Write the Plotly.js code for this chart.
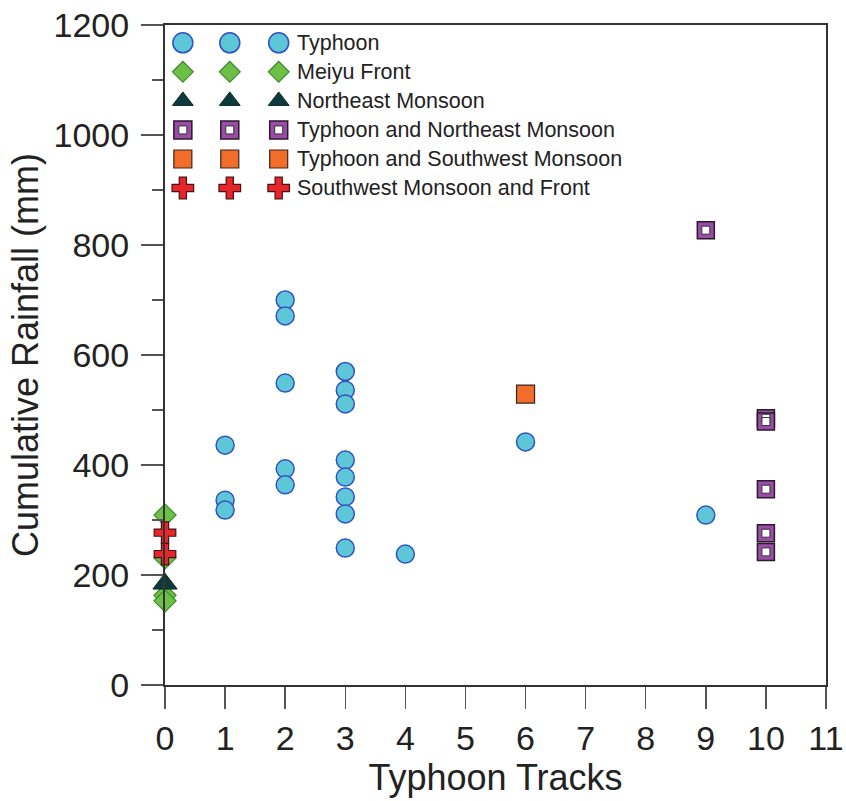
<!DOCTYPE html>
<html>
<head>
<meta charset="utf-8">
<script src="https://cdn.plot.ly/plotly-3.0.1.min.js"></script>
<style>html,body{margin:0;padding:0;background:#fff;}#chart{width:846px;height:801px;}</style>
</head>
<body>
<div id="chart"></div>
<script>
// ---- data ----
var typhoonX = [1, 1, 1, 2, 2, 2, 2, 2, 3, 3, 3, 3, 3, 3, 3, 3, 4, 6, 9];
var typhoonY = [436, 336, 318, 700, 671, 549, 393, 364, 570, 536, 511, 409, 378, 342, 311, 249, 238, 442, 309];
var meiyuX = [0, 0, 0, 0];
var meiyuY = [309, 231, 163, 153];
var neMonsoonX = [0];
var neMonsoonY = [184];
var tyNeX = [9, 10, 10, 10, 10, 10];
var tyNeY = [827, 485, 479, 356, 276, 242];
var tySwX = [6];
var tySwY = [529];
var swFrontX = [0, 0];
var swFrontY = [277, 238];

var seriesNames = ["Typhoon", "Meiyu Front", "Northeast Monsoon",
  "Typhoon and Northeast Monsoon", "Typhoon and Southwest Monsoon", "Southwest Monsoon and Front"];
var xTicks = [0, 1, 2, 3, 4, 5, 6, 7, 8, 9, 10, 11];
var yTicks = [0, 200, 400, 600, 800, 1000, 1200];

// legend layout (fractions of plot area)
var legendCols = [0.027, 0.098, 0.172];
var legendRows = [0.973, 0.929, 0.885, 0.841, 0.797, 0.753];

var FONT = "Liberation Sans, Arial, sans-serif";

var styles = [
  {symbol: "circle", size: 18, color: "#5ec7d7", line: {color: "#2f52c4", width: 1.5}},
  {symbol: "diamond", size: 17, color: "#6cc046", line: {color: "#3d8a28", width: 1.2}},
  {symbol: "triangle-up", size: 21, color: "#0e3b3a", line: {color: "#0a2625", width: 1}},
  {symbol: "square", size: 17, color: "#9a4ca8", line: {color: "#2b1a2b", width: 1.5}},
  {symbol: "square", size: 18, color: "#f26c2a", line: {color: "#3a2520", width: 1.2}},
  {symbol: "cross", size: 18, color: "#e7252a", line: {color: "#4a1010", width: 1.2}}
];
var legendSizes = [20, 16, 18, 18, 18, 18];
var innerStyle = {symbol: "square", size: 8, color: "#ffffff", line: {color: "#333333", width: 1}};

var dataSets = [
  [typhoonX, typhoonY], [meiyuX, meiyuY], [neMonsoonX, neMonsoonY],
  [tyNeX, tyNeY], [tySwX, tySwY], [swFrontX, swFrontY]
];

var traces = [];
dataSets.forEach(function (d, i) {
  traces.push({
    type: "scatter", mode: "markers", x: d[0], y: d[1], name: seriesNames[i],
    showlegend: false, cliponaxis: false, hoverinfo: "x+y+name",
    marker: {symbol: styles[i].symbol, size: styles[i].size, color: styles[i].color, line: styles[i].line}
  });
  if (i === 3) {
    traces.push({
      type: "scatter", mode: "markers", x: d[0], y: d[1], showlegend: false, cliponaxis: false,
      hoverinfo: "skip", marker: innerStyle
    });
  }
});

// custom three-marker legend drawn on a secondary axis pair
var annotations = [];
seriesNames.forEach(function (name, i) {
  var lx = legendCols.slice();
  var ly = legendCols.map(function () { return legendRows[i]; });
  traces.push({
    type: "scatter", mode: "markers", x: lx, y: ly, xaxis: "x2", yaxis: "y2",
    showlegend: false, cliponaxis: false, hoverinfo: "skip",
    marker: {symbol: styles[i].symbol, size: legendSizes[i], color: styles[i].color, line: styles[i].line}
  });
  if (i === 3) {
    traces.push({
      type: "scatter", mode: "markers", x: lx, y: ly, xaxis: "x2", yaxis: "y2",
      showlegend: false, cliponaxis: false, hoverinfo: "skip", marker: innerStyle
    });
  }
  annotations.push({
    xref: "x2", yref: "y2", x: 0.197, y: legendRows[i], xanchor: "left", yanchor: "middle",
    text: name, showarrow: false, font: {family: FONT, size: 21.5, color: "#222"}
  });
});

var axisLine = "#333333";
var layout = {
  width: 846, height: 801,
  margin: {l: 165, r: 20, t: 25, b: 116},
  paper_bgcolor: "#ffffff", plot_bgcolor: "#ffffff",
  showlegend: false,
  xaxis: {
    range: [0, 11], tickmode: "array", tickvals: xTicks, ticktext: xTicks.map(String),
    showgrid: false, zeroline: false, showline: true, linecolor: axisLine, linewidth: 2,
    mirror: true, ticks: "outside", ticklen: 22, tickwidth: 1.5, tickcolor: "#555",
    tickfont: {family: FONT, size: 34, color: "#222"},
    title: {text: "Typhoon Tracks", font: {family: FONT, size: 36, color: "#222"}, standoff: 4}
  },
  yaxis: {
    range: [0, 1200], tickmode: "array", tickvals: yTicks, ticktext: yTicks.map(String),
    showgrid: false, zeroline: false, showline: true, linecolor: axisLine, linewidth: 2,
    mirror: true, ticks: "outside", ticklen: 22, tickwidth: 1.5, tickcolor: "#555",
    ticklabelstandoff: 5,
    minor: {dtick: 100, tick0: 0, ticks: "outside", ticklen: 11, tickwidth: 1.5, tickcolor: "#555", showgrid: false},
    tickfont: {family: FONT, size: 34, color: "#222"},
    title: {text: "Cumulative Rainfall (mm)", font: {family: FONT, size: 36, color: "#222"}, standoff: 4}
  },
  xaxis2: {overlaying: "x", anchor: "y2", range: [0, 1], visible: false, fixedrange: true},
  yaxis2: {overlaying: "y", anchor: "x2", range: [0, 1], visible: false, fixedrange: true},
  annotations: annotations
};

Plotly.newPlot("chart", traces, layout, {displayModeBar: false, staticPlot: true});
</script>
</body>
</html>
